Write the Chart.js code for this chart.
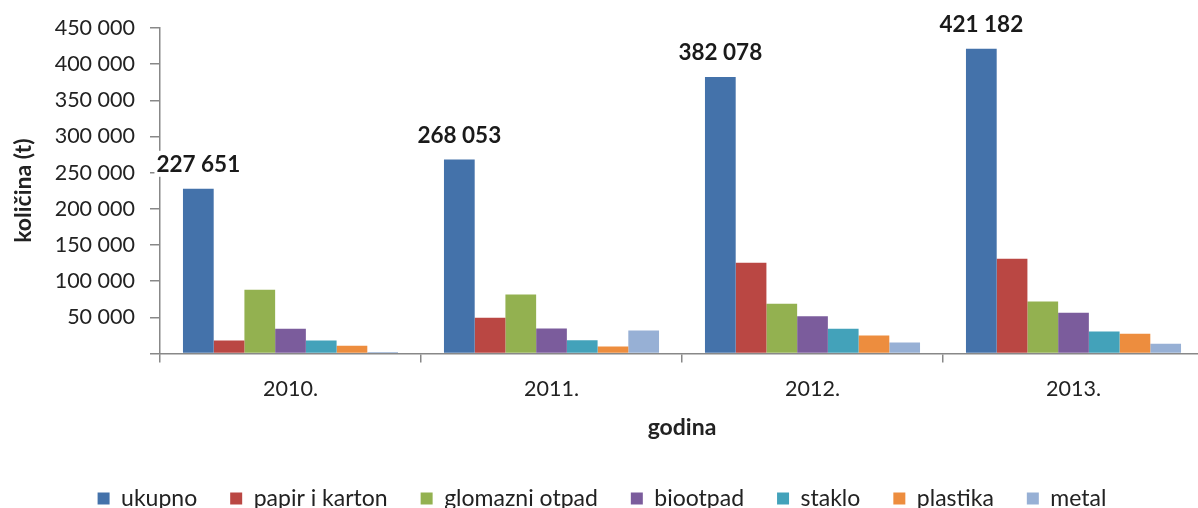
<!DOCTYPE html>
<html>
<head>
<meta charset="utf-8">
<script src="https://cdn.jsdelivr.net/npm/chart.js@4"></script>
<style>
html,body{margin:0;padding:0;overflow:hidden;background:#fff;width:1198px;height:508px}
#wrap{width:1212px;height:508px}
canvas{display:block}
</style>
</head>
<body>
<div id="wrap"><canvas id="c" width="1212" height="508"></canvas></div>
<script>
// ---- data ----
const years = ['2010.', '2011.', '2012.', '2013.'];
const seriesNames = ['ukupno', 'papir i karton', 'glomazni otpad', 'biootpad', 'staklo', 'plastika', 'metal'];
const ukupno        = [227651, 268053, 382078, 421182];
const papirKarton   = [18000, 49300, 125300, 130800];
const glomazniOtpad = [88000, 81500, 68600, 71800];
const biootpad      = [34100, 34500, 51500, 56200];
const staklo        = [18000, 18400, 34100, 30400];
const plastika      = [10600, 9800, 24900, 27200];
const metal         = [2200, 31800, 15200, 13400];
const yTicks = [0, 50000, 100000, 150000, 200000, 250000, 300000, 350000, 400000, 450000];
const yTitle = 'količina (t)';
const xTitle = 'godina';

// ---- styles ----
const colors = ['#4472AA', '#BA4743', '#93B150', '#7B5C9C', '#43A2BA', '#ED8D3E', '#97B0D5'];
const seriesValues = [ukupno, papirKarton, glomazniOtpad, biootpad, staklo, plastika, metal];
const FONT = 'Lato';
const TXT = '#222222';
const AX = '#888888';

function fmt(v) { return String(v).replace(/\B(?=(\d{3})+(?!\d))/g, ' '); }

const valueLabels = {
  id: 'valueLabels',
  afterDatasetsDraw(chart) {
    const ctx = chart.ctx;
    const meta = chart.getDatasetMeta(0);
    ctx.save();
    ctx.font = 'bold 22.5px ' + FONT;
    ctx.textAlign = 'center';
    ctx.textBaseline = 'middle';
    meta.data.forEach((bar, i) => {
      const t = fmt(chart.data.datasets[0].data[i]);
      const w = ctx.measureText(t).width;
      const x = bar.x, y = bar.y - 25;
      ctx.fillStyle = '#ffffff';
      ctx.fillRect(x - w / 2 - 2, y - 13, w + 4, 26);
      ctx.fillStyle = '#1a1a1a';
      ctx.fillText(t, x, y + 1);
    });
    ctx.restore();
  }
};

function build() {
  Chart.defaults.font.family = FONT;
  new Chart(document.getElementById('c'), {
    type: 'bar',
    data: {
      labels: years,
      datasets: seriesNames.map((n, i) => ({
        label: n,
        data: seriesValues[i],
        backgroundColor: colors[i],
        borderWidth: 0,
        barPercentage: 1,
        categoryPercentage: 0.824
      }))
    },
    options: {
      responsive: false,
      animation: false,
      devicePixelRatio: 1,
      layout: { padding: { top: 27, right: 8, bottom: -12, left: 0 } },
      plugins: {
        tooltip: { enabled: false },
        legend: {
          position: 'bottom',
          labels: { boxWidth: 12, boxHeight: 12, padding: 33, color: TXT, font: { size: 23 } }
        }
      },
      scales: {
        x: {
          offset: true,
          border: { color: AX, width: 1.5 },
          grid: { offset: true, drawOnChartArea: false, tickLength: 9, color: AX, lineWidth: 1.5 },
          ticks: { padding: 14, color: TXT, font: { size: 21.5 } },
          title: { display: true, text: xTitle, color: TXT, font: { size: 23, weight: 'bold' }, padding: { top: 0, bottom: 13 } },
          afterFit(s) { s.height = 100.5; }
        },
        y: {
          min: 0, max: 450000,
          border: { color: AX, width: 1.5 },
          grid: { drawOnChartArea: false, tickLength: 10, color: AX, lineWidth: 1.5 },
          ticks: { padding: 15, color: TXT, font: { size: 21.5 }, callback: v => (v === 0 ? '' : fmt(v)) },
          afterBuildTicks(s) { s.ticks = yTicks.map(v => ({ value: v })); },
          title: { display: true, text: yTitle, color: TXT, font: { size: 23, weight: 'bold' }, padding: { top: 10, bottom: 0 } },
          afterFit(s) { s.width = 160; }
        }
      }
    },
    plugins: [valueLabels]
  });
}

const loads = ['21.5px Lato', '23px Lato', 'bold 23px Lato'].map(f => document.fonts.load(f).catch(() => null));
Promise.all(loads).then(build, build);
</script>
</body>
</html>
